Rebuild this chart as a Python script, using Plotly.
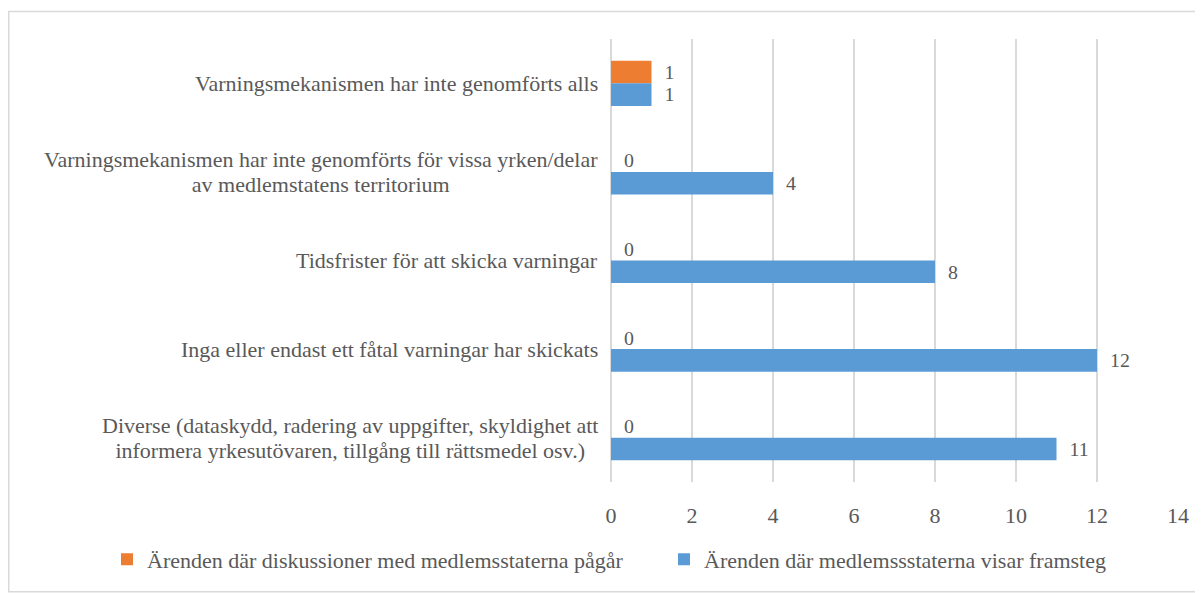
import plotly.graph_objects as go

categories = [
    "Varningsmekanismen har inte genomförts alls",
    "Varningsmekanismen har inte genomförts för vissa yrken/delar<br>av medlemstatens territorium",
    "Tidsfrister för att skicka varningar",
    "Inga eller endast ett fåtal varningar har skickats",
    "Diverse (dataskydd, radering av uppgifter, skyldighet att<br>informera yrkesutövaren, tillgång till rättsmedel osv.)",
]
series_names = [
    "Ärenden där diskussioner med medlemsstaterna pågår",
    "Ärenden där medlemssstaterna visar framsteg",
]
discussions = [1, 0, 0, 0, 0]
progress = [1, 4, 8, 12, 11]
x_ticks = [0, 2, 4, 6, 8, 10, 12, 14]

FONT = "Liberation Serif"
FS = 22
TXT = "#595959"
colors = ["#ED7D31", "#5B9BD5"]
legend_ids = ["legend", "legend2"]

fig = go.Figure()
for name, vals, col, lg in zip(series_names, [discussions, progress], colors, legend_ids):
    fig.add_trace(go.Bar(
        y=categories, x=vals, name=name, orientation="h",
        marker=dict(color=col, line=dict(width=0)),
        text=vals, texttemplate="\u00a0\u00a0%{x}", textposition="outside",
        textfont=dict(family=FONT, size=FS, color=TXT),
        cliponaxis=False, legend=lg,
    ))

# category labels: right-aligned block, lines centred within it (Excel style).
# annotation font size sets the line spacing; glyphs are drawn at FS via span.
for c in categories:
    styled = "<br>".join(f"<span style='font-size:{FS}px'>{ln}</span>" for ln in c.split("<br>"))
    fig.add_annotation(
        x=0, xref="paper", y=c, yref="y", xanchor="right", xshift=-11,
        text=styled, showarrow=False, align="center",
        font=dict(family=FONT, size=19, color=TXT),
    )

# page body has an 8px margin; figure coordinates = page coordinates - 8
W, H = 1195, 585
L, R, T, B = 603, 25, 31, 102
pw, ph = W - L - R, H - T - B
fig.add_shape(
    type="rect", xref="paper", yref="paper",
    x0=(0.75 - L) / pw, x1=(W + 10 - L) / pw,
    y0=(H - B - (H + 10)) / ph, y1=(H - B - 3) / ph,
    line=dict(color="#d9d9d9", width=1.5), fillcolor="rgba(0,0,0,0)", layer="below",
)

leg_common = dict(
    orientation="h", xanchor="left", y=(H - B - 562) / ph, yanchor="middle",
    font=dict(family=FONT, size=FS, color=TXT), itemwidth=30, bgcolor="rgba(0,0,0,0)",
)

fig.update_layout(
    width=W, height=H,
    margin=dict(l=L, r=R, t=T, b=B),
    paper_bgcolor="white", plot_bgcolor="white",
    barmode="group", bargap=0.49, bargroupgap=0,
    font=dict(family=FONT, size=FS, color=TXT),
    showlegend=True,
    legend=dict(x=(99 - L) / pw, **leg_common),
    legend2=dict(x=(656 - L) / pw, **leg_common),
    xaxis=dict(
        range=[0, 14], tickvals=x_ticks, showgrid=True, gridcolor="#d9d9d9", gridwidth=1.5,
        zeroline=True, zerolinecolor="#d9d9d9", zerolinewidth=1.5,
        showline=False, ticks="", ticklabelstandoff=18,
        tickfont=dict(family=FONT, size=FS, color=TXT),
    ),
    yaxis=dict(
        categoryorder="array", categoryarray=categories, autorange="reversed",
        showticklabels=False, showgrid=False, zeroline=False, showline=False, ticks="",
    ),
)

fig.write_html("out.html")
